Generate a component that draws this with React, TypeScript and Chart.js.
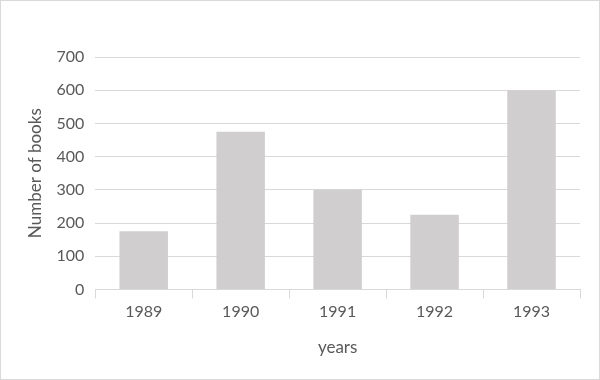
import React, { useEffect, useRef } from "react";
import { Chart, registerables } from "chart.js";

Chart.register(...registerables);

const categories = ["1989", "1990", "1991", "1992", "1993"];
const books = [175, 475, 300, 225, 600];
const yTicks = [0, 100, 200, 300, 400, 500, 600, 700];

export default function App() {
  const ref = useRef<HTMLCanvasElement | null>(null);
  useEffect(() => {
    document.body.style.margin = "0";
    const ctx = ref.current!;
    const font = { family: "Lato, 'Open Sans', sans-serif", size: 16 };
    const chart = new Chart(ctx, {
      type: "bar",
      data: {
        labels: categories,
        datasets: [
          {
            data: books,
            backgroundColor: "#d0cece",
            borderWidth: 0,
            categoryPercentage: 1,
            barPercentage: 0.5,
          },
        ],
      },
      options: {
        animation: false,
        responsive: false,
        maintainAspectRatio: false,
        layout: { padding: { top: 56, right: 19, left: 24, bottom: 17 } },
        plugins: { legend: { display: false }, tooltip: { enabled: false } },
        scales: {
          x: {
            grid: {
              offset: true,
              drawOnChartArea: false,
              drawTicks: true,
              tickLength: 9,
              color: "#d9d9d9",
            },
            border: { color: "#d9d9d9" },
            ticks: { color: "#595959", font, padding: 4 },
            title: {
              display: true,
              text: "years",
              color: "#595959",
              font: { ...font, size: 17 },
              padding: { top: 12 },
            },
          },
          y: {
            min: 0,
            max: 700,
            afterBuildTicks: (axis: any) => {
              axis.ticks = yTicks.map((v) => ({ value: v }));
            },
            grid: { color: "#d9d9d9", drawTicks: false },
            border: { display: false },
            ticks: { color: "#595959", font, padding: 11 },
            title: {
              display: true,
              text: "Number of books",
              color: "#595959",
              font: { ...font, size: 17 },
              padding: { top: 0, bottom: 0 },
            },
          },
        },
      },
    });
    return () => chart.destroy();
  }, []);
  return (
    <div
      style={{
        position: "absolute",
        left: 0,
        top: 0,
        width: 600,
        height: 380,
        boxSizing: "border-box",
        border: "1px solid #d9d9d9",
        background: "#fff",
      }}
    >
      <canvas ref={ref} width={598} height={378} />
    </div>
  );
}
